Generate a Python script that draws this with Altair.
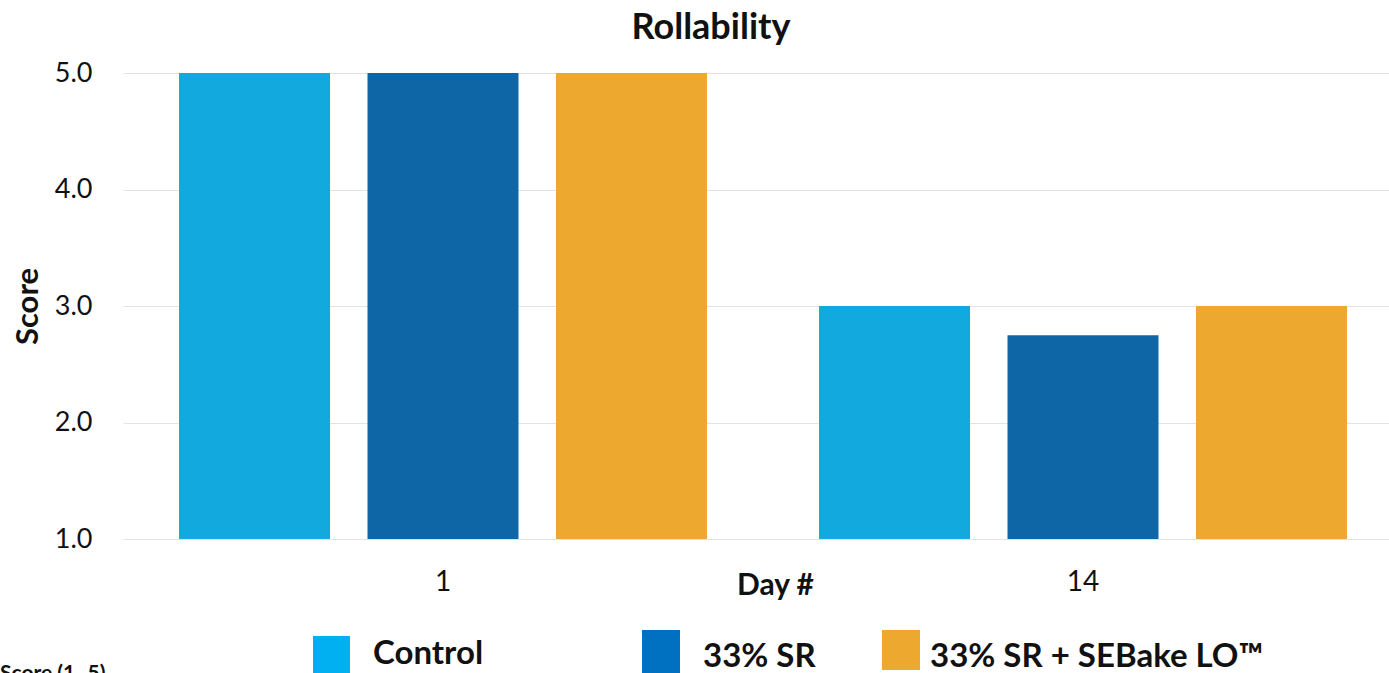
import altair as alt
import pandas as pd

# Rollability scores per storage day and formulation
days = ["1", "14"]
series = ["Control", "33% SR", "33% SR + SEBake LO™"]
control_scores = [5.0, 3.0]
sr_scores = [5.0, 2.75]
sebake_scores = [5.0, 3.0]
y_ticks = [1.0, 2.0, 3.0, 4.0, 5.0]

bar_colors = ["#12AADE", "#0E66A6", "#EDA92F"]
legend_colors = ["#00B0F0", "#0070C0", "#EDA92F"]

rows = []
for name, vals in zip(series, [control_scores, sr_scores, sebake_scores]):
    for d, v in zip(days, vals):
        rows.append({"day": d, "series": name, "score": v})
df = pd.DataFrame(rows)

# plot area origin inside the padded canvas
LEFT, TOP = 123, 73
W, H = 1266, 466

bars = alt.Chart(df).mark_bar().encode(
    x=alt.X(
        "day:N",
        sort=days,
        scale=alt.Scale(paddingInner=0.1, paddingOuter=0.0390625, align=0.64),
        axis=alt.Axis(
            title="Day #",
            labelAngle=0,
            labelFont="Lato",
            labelFontSize=28,
            labelColor="#111111",
            labelPadding=29,
            ticks=False,
            tickSize=0,
            domain=False,
            grid=False,
            titleFont="Lato",
            titleFontSize=30,
            titleFontWeight="bold",
            titleColor="#111111",
            titleX=652,
            titleY=31,
            titleAlign="center",
            titleBaseline="top",
        ),
    ),
    xOffset=alt.XOffset(
        "series:N", sort=series,
        scale=alt.Scale(paddingInner=0.199, paddingOuter=0.1274),
    ),
    y=alt.Y(
        "score:Q",
        scale=alt.Scale(domain=[1, 5], zero=False, nice=False),
        axis=alt.Axis(
            title="Score",
            values=y_ticks,
            format=".1f",
            labelFont="Lato",
            labelFontSize=27,
            labelColor="#111111",
            labelPadding=31,
            ticks=False,
            tickSize=0,
            domain=False,
            gridColor="#e3e3e3",
            gridWidth=1,
            titleFont="Lato",
            titleFontSize=31,
            titleFontWeight="bold",
            titleColor="#111111",
            titleX=-95,
            titleY=H / 2,
            titleAngle=270,
            titleAlign="center",
            titleBaseline="middle",
        ),
    ),
    y2=alt.datum(1),
    color=alt.Color(
        "series:N", sort=series,
        scale=alt.Scale(domain=series, range=bar_colors),
        legend=None,
    ),
)

one = pd.DataFrame({"k": [0]})

title = alt.Chart(one).mark_text(
    text="Rollability", font="Lato", fontSize=36, fontWeight="bold",
    align="center", baseline="alphabetic", color="#111111",
).encode(x=alt.value(711 - LEFT), y=alt.value(39 - TOP))

# hand-placed legend row under the axis
legend_boxes = [(313, 350, 636, 673), (642, 680, 630, 673), (882, 920, 630, 670)]
legend_text = [(373, 664), (703, 667), (930, 667)]
legend_layers = []
for name, col, (x0, x1, y0, y1), (tx, ty) in zip(series, legend_colors, legend_boxes, legend_text):
    legend_layers.append(
        alt.Chart(one).mark_rect(color=col).encode(
            x=alt.value(x0 - LEFT), x2=alt.value(x1 - LEFT),
            y=alt.value(y0 - TOP), y2=alt.value(y1 - TOP),
        )
    )
    legend_layers.append(
        alt.Chart(one).mark_text(
            text=name, font="Lato", fontSize=33, fontWeight="bold",
            align="left", baseline="alphabetic", color="#111111",
        ).encode(x=alt.value(tx - LEFT), y=alt.value(ty - TOP))
    )

footnote = alt.Chart(one).mark_text(
    text="Score (1–5)", font="Lato", fontSize=21, fontWeight="bold",
    align="left", baseline="alphabetic", color="#111111",
).encode(x=alt.value(0 - LEFT), y=alt.value(680 - TOP))

chart = alt.layer(bars, title, *legend_layers, footnote).properties(
    width=W,
    height=H,
    autosize=alt.AutoSizeParams(type="none"),
    padding={"left": LEFT, "top": TOP, "right": 0, "bottom": 673 - TOP - H},
    background="white",
).configure_view(stroke=None)

chart.save("out.html", embed_options={"renderer": "svg", "actions": False})
